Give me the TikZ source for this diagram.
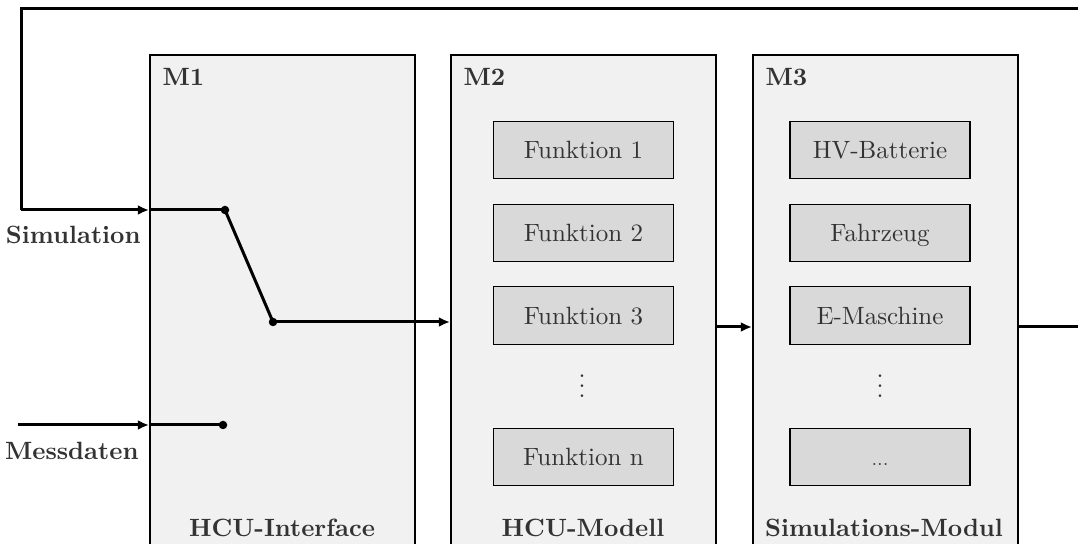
\documentclass[tikz,border=0pt]{standalone}
\usetikzlibrary{positioning, arrows.meta, calc}
\definecolor{ModulGrau}{HTML}{F1F1F1}
\definecolor{BlockGrau}{HTML}{D9D9D9}
\definecolor{TextGrau}{HTML}{333333}

\begin{document}
\begin{tikzpicture}[x=0.4pt, y=-0.4pt,
    modul/.style={draw=black, fill=ModulGrau, line width=0.7pt, inner sep=0pt,
      minimum width=106pt, minimum height=240pt, anchor=north west},
    block/.style={draw=black, fill=BlockGrau, line width=0.5pt, inner sep=0pt,
      minimum width=72pt, minimum height=23pt, text height=7pt, text depth=0pt,
      text=TextGrau},
    titel/.style={font=\bfseries, text=TextGrau, inner sep=0pt},
    signal/.style={line width=1.2pt},
    pfeil/.style={signal, -{Latex[length=4.5pt, width=4pt]}},
    punkt/.style={circle, fill=black, inner sep=0pt, minimum size=3.4pt}]

  \useasboundingbox (0,0) rectangle (1078,544);
  \clip (0,0) rectangle (1078,544);

  % Module
  \node[modul] (m1) at (149,54) {};
  \node[modul] (m2) at (450,54) {};
  \node[modul] (m3) at (752,54) {};

  \node[titel, anchor=base west] at (162,86) {M1};
  \node[titel, anchor=base west] at (463,86) {M2};
  \node[titel, anchor=base west] at (765,86) {M3};

  \node[titel, anchor=base] at (282,536) {HCU-Interface};
  \node[titel, anchor=base] at (583,536) {HCU-Modell};
  \node[titel, anchor=base] at (884,536) {Simulations-Modul};

  % Funktionen
  \foreach \n/\y/\txt in {f1/150/Funktion 1, f2/233/Funktion 2,
                          f3/315.5/Funktion 3, fn/457/Funktion n}
    \node[block] (\n) at (583.5,\y) {\txt};
  \node[text=TextGrau] (fdots) at (582,378.5) {$\vdots$};

  % Simulationsmodelle
  \foreach \n/\y/\txt in {s1/150/HV-Batterie, s2/233/Fahrzeug,
                          s3/315.5/E-Maschine}
    \node[block] (\n) at (880,\y) {\txt};
  \node[block] (sn) at (880,457) {\scriptsize ...};
  \node[text=TextGrau] (sdots) at (880,378.5) {$\vdots$};

  % Schalter
  \node[punkt] (p1) at (225,210) {};
  \node[punkt] (p2) at (273,322) {};
  \node[punkt] (p3) at (223,425) {};

  \coordinate (start) at (21,210);
  \coordinate (mess) at (18,425);
  \coordinate (z) at (0,327);
  \coordinate (r0) at (21,9);
  \coordinate (r1) at (1090,9);

  % Eingaenge
  \draw[pfeil] (start) -- (m1.west |- start);
  \draw[signal] (m1.west |- start) -- (p1.center);
  \draw[pfeil] (mess) -- (m1.west |- mess);
  \draw[signal] (m1.west |- mess) -- (p3.center);
  \draw[signal] (p1.center) -- (p2.center);
  \draw[pfeil] (p2.center) -- (m2.west |- p2);

  \node[titel, anchor=east] at (141,235) {Simulation};
  \node[titel, anchor=east] at (139,451) {Messdaten};

  % M2 -> M3 und Rueckfuehrung
  \draw[pfeil] (m2.east |- z) -- (m3.west |- z);
  \draw[signal] (m3.east |- z) -- (r1 |- z) -- (r1) -- (r0) -- (start);
\end{tikzpicture}
\end{document}
